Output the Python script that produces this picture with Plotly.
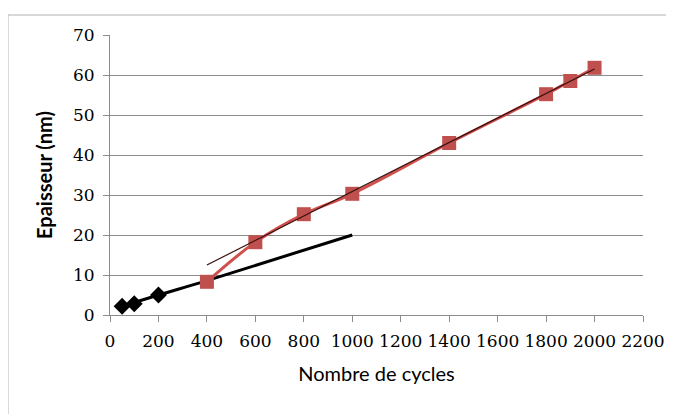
import plotly.graph_objects as go

# Data
black_x = [50, 100, 200]
black_y = [2.2, 2.8, 5.0]
black_trend_x = [50, 200, 400, 1000]
black_trend_y = [2.2, 5.0, 8.6, 20.0]
red_x = [400, 600, 800, 1000, 1400, 1800, 1900, 2000]
red_y = [8.3, 18.2, 25.2, 30.3, 43.0, 55.2, 58.5, 61.8]
red_trend_x = [400, 2000]
red_trend_y = [12.5, 61.5]
x_ticks = [0, 200, 400, 600, 800, 1000, 1200, 1400, 1600, 1800, 2000, 2200]
y_ticks = [0, 10, 20, 30, 40, 50, 60, 70]

fig = go.Figure()
fig.add_trace(go.Scatter(x=black_trend_x, y=black_trend_y, mode="lines",
                         line=dict(color="black", width=3, shape="spline"), showlegend=False))
fig.add_trace(go.Scatter(x=red_x, y=red_y, mode="lines+markers",
                         line=dict(color="#D0504D", width=3, shape="spline"),
                         marker=dict(symbol="square", size=14, color="#C0504D"), showlegend=False))
fig.add_trace(go.Scatter(x=red_trend_x, y=red_trend_y, mode="lines",
                         line=dict(color="#3a1010", width=1.2), showlegend=False))
fig.add_trace(go.Scatter(x=black_x, y=black_y, mode="markers",
                         marker=dict(symbol="diamond", size=13, color="black"), showlegend=False))

fig.update_layout(
    width=674, height=414,
    margin=dict(l=102, r=39, t=27, b=107),
    paper_bgcolor="white", plot_bgcolor="white",
    xaxis=dict(range=[0, 2200], tickvals=x_ticks, showgrid=False, zeroline=False,
               showline=True, linecolor="#8c8c8c", linewidth=1,
               ticks="outside", ticklen=6, tickcolor="#8c8c8c",
               tickfont=dict(family="DejaVu Serif", size=17, color="black"),
               ticklabelstandoff=5,
               title=dict(text="Nombre de cycles", font=dict(family="Lato", size=20, color="black"),
                          standoff=16)),
    yaxis=dict(range=[0, 70], tickvals=y_ticks, showgrid=True, gridcolor="#8c8c8c", gridwidth=1,
               zeroline=False, showline=True, linecolor="#8c8c8c", linewidth=1,
               ticks="outside", ticklen=6, tickcolor="#8c8c8c",
               tickfont=dict(family="DejaVu Serif", size=17, color="black"),
               ticklabelstandoff=5,
               title=dict(text="<b>Epaisseur (nm)</b>", font=dict(family="Lato", size=20, color="black"),
                          standoff=14)),
    shapes=[dict(type="rect", xref="paper", yref="paper", x0=-0.1914, x1=1.08, y0=-0.45, y1=1.0714,
                 line=dict(color="#b0b0b0", width=1), layer="below")],
)
fig.write_html("out.html")
